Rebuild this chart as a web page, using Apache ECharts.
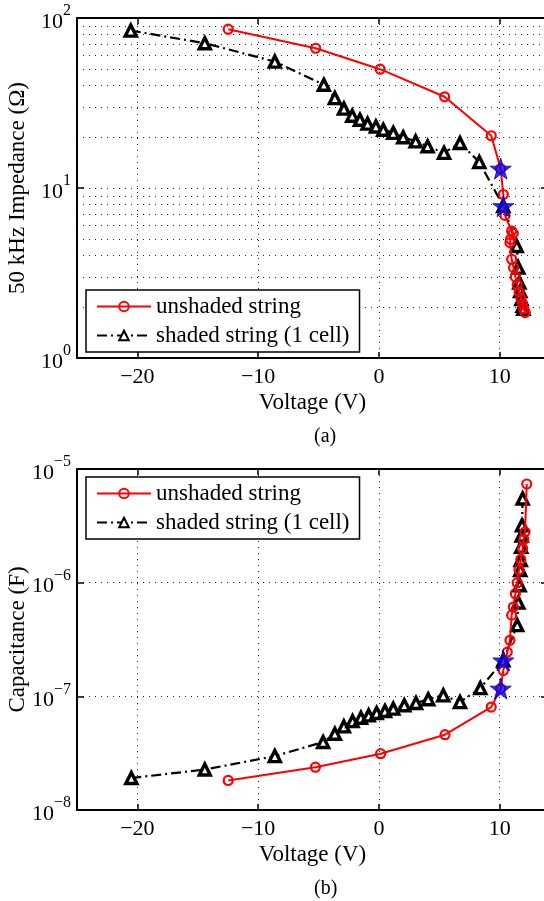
<!DOCTYPE html>
<html>
<head>
<meta charset="utf-8">
<script src="https://cdn.jsdelivr.net/npm/echarts@6/dist/echarts.min.js"></script>
<style>html,body{margin:0;padding:0;background:#fff}#c{width:544px;height:901px}</style>
</head>
<body>
<div id="c"></div>
<script>
// ---- data ----
const xTickValues = [-20, -10, 0, 10];

// (a) impedance, unshaded string
const zRedV = [-12.48, -5.24, 0.1, 5.44, 9.3, 10.08, 10.3, 10.44, 10.99, 11.13, 10.9, 10.85, 10.99, 11.15, 11.3, 11.45, 11.6, 11.75, 11.9, 12.0, 12.1];
const zRed  = [85.9, 66.4, 50.0, 34.4, 20.3, 13.0, 9.16, 6.9, 5.58, 5.41, 4.99, 4.77, 3.81, 3.4, 3.0, 2.7, 2.45, 2.25, 2.08, 1.95, 1.85];
// (a) impedance, shaded string (1 cell)
const zBlkV = [-20.55, -14.42, -8.62, -4.56, -3.65, -2.9, -2.21, -1.57, -0.94, -0.25, 0.36, 1.19, 2.01, 3.04, 4.03, 5.39, 6.71, 8.31, 10.3, 11.41, 11.54, 11.63, 11.7, 11.8, 11.9, 11.96];
const zBlk  = [84.3, 71.1, 55.4, 40.5, 33.8, 29.3, 26.6, 25.2, 23.9, 23.0, 22.0, 21.1, 19.9, 18.8, 17.6, 16.1, 18.4, 14.2, 7.82, 4.56, 3.4, 2.78, 2.48, 2.22, 2.03, 1.95];
// (a) highlighted points
const zStarV = [10.08, 10.3];
const zStar  = [13.0, 7.82];

// (b) capacitance, unshaded string
const cRedV = [-12.48, -5.26, 0.14, 5.47, 9.3, 10.08, 10.3, 10.63, 10.85, 10.99, 11.13, 11.3, 11.45, 11.6, 11.75, 11.9, 12.0, 12.1, 12.24];
const cRed  = [1.82e-8, 2.38e-8, 3.13e-8, 4.6e-8, 8.05e-8, 1.17e-7, 1.69e-7, 2.45e-7, 3.11e-7, 5.18e-7, 6.1e-7, 8.0e-7, 1.0e-6, 1.3e-6, 1.6e-6, 2.0e-6, 2.4e-6, 2.8e-6, 7.38e-6];
// (b) capacitance, shaded string (1 cell)
const cBlkV = [-20.5, -14.42, -8.62, -4.62, -3.65, -2.9, -2.18, -1.49, -0.85, -0.19, 0.5, 1.19, 2.1, 3.07, 4.08, 5.33, 6.71, 8.4, 10.3, 11.45, 11.54, 11.65, 11.7, 11.74, 11.78, 11.82, 11.85, 11.9];
const cBlk  = [1.91e-8, 2.27e-8, 2.98e-8, 3.96e-8, 4.69e-8, 5.44e-8, 6.05e-8, 6.48e-8, 6.8e-8, 7.13e-8, 7.42e-8, 7.79e-8, 8.34e-8, 8.74e-8, 9.42e-8, 1.02e-7, 8.9e-8, 1.18e-7, 2.07e-7, 4.23e-7, 6.7e-7, 9.5e-7, 1.29e-6, 1.58e-6, 2.07e-6, 2.6e-6, 3.2e-6, 5.5e-6];
// (b) highlighted points
const cStarV = [10.08, 10.3];
const cStar  = [1.17e-7, 2.07e-7];

// minor grid values
const zMinor = [2, 3, 4, 5, 6, 7, 8, 9, 20, 30, 40, 50, 60, 70, 80, 90];
const cMinor = [2e-8, 3e-8, 4e-8, 5e-8, 6e-8, 7e-8, 8e-8, 9e-8, 2e-7, 3e-7, 4e-7, 5e-7, 6e-7, 7e-7, 8e-7, 9e-7, 2e-6, 3e-6, 4e-6, 5e-6, 6e-6, 7e-6, 8e-6, 9e-6];

// ---- chart ----
const FONT = '"Liberation Serif", "DejaVu Serif", serif';
const pairs = (xs, ys) => xs.map((x, i) => [x, ys[i]]);
const STAR = 'path://M50,0 L61,35 L98,35 L68,57 L79,91 L50,70 L21,91 L32,57 L2,35 L39,35 Z';
const dotted = { type: [1, 5], color: '#222', width: 1 };

function expLabel(v) {
  const e = Math.round(Math.log10(v));
  return '{b|10}{s|' + (e < 0 ? '\u2212' + (-e) : e) + '}';
}
const yRich = {
  b: { fontSize: 22, fontFamily: FONT, color: '#000', lineHeight: 30, verticalAlign: 'bottom' },
  s: { fontSize: 16, fontFamily: FONT, color: '#000', lineHeight: 16, verticalAlign: 'top' }
};

function xAxisPair(gi) {
  return [
    {
      type: 'value', gridIndex: gi, min: -25, max: 14, position: 'bottom',
      axisLine: { show: true, onZero: false, lineStyle: { color: '#000', width: 2 } },
      axisTick: { show: true, inside: true, length: 6, customValues: xTickValues, lineStyle: { color: '#000', width: 1.5 } },
      axisLabel: { customValues: xTickValues, fontSize: 22, fontFamily: FONT, color: '#000', margin: 8,
        formatter: v => (v < 0 ? '\u2212' + (-v) : '' + v) },
      splitLine: { show: true, lineStyle: dotted },
      name: 'Voltage (V)', nameLocation: 'middle', nameGap: 33, nameMoveOverlap: false,
      nameTextStyle: { fontSize: 23, fontFamily: FONT, color: '#000' }
    },
    {
      type: 'value', gridIndex: gi, min: -25, max: 14, position: 'top',
      axisLine: { show: true, onZero: false, lineStyle: { color: '#000', width: 2 } },
      axisTick: { show: true, inside: true, length: 6, customValues: xTickValues, lineStyle: { color: '#000', width: 1.5 } },
      axisLabel: { show: false }, splitLine: { show: false }
    }
  ];
}
function yAxisPair(gi, mn, mx, name) {
  return [
    {
      type: 'log', logBase: 10, gridIndex: gi, min: mn, max: mx, position: 'left',
      axisLine: { show: true, onZero: false, lineStyle: { color: '#000', width: 2 } },
      axisTick: { show: true, inside: true, length: 7, lineStyle: { color: '#000', width: 1.5 } },
      axisLabel: { formatter: expLabel, rich: yRich, margin: 6 },
      splitLine: { show: true, lineStyle: dotted },
      minorTick: { show: false }, minorSplitLine: { show: false },
      name: name, nameLocation: 'middle', nameGap: 48, nameMoveOverlap: false,
      nameTextStyle: { fontSize: 23, fontFamily: FONT, color: '#000' }
    },
    {
      type: 'log', logBase: 10, gridIndex: gi, min: mn, max: mx, position: 'right',
      axisLine: { show: true, onZero: false, lineStyle: { color: '#000', width: 2 } },
      axisTick: { show: true, inside: true, length: 7, lineStyle: { color: '#000', width: 1.5 } },
      axisLabel: { show: false }, splitLine: { show: false }
    }
  ];
}
function redSeries(xi, yi, data, minor) {
  return {
    name: 'unshaded string', type: 'line', xAxisIndex: xi, yAxisIndex: yi, data: data,
    symbol: 'circle', symbolSize: 9, showAllSymbol: true,
    lineStyle: { color: '#ff0000', width: 2 },
    itemStyle: { color: 'rgba(255,255,255,0)', borderColor: '#ff0000', borderWidth: 2.2 },
    emphasis: { disabled: true }, z: 3,
    markLine: {
      silent: true, symbol: ['none', 'none'], label: { show: false },
      lineStyle: dotted, animation: false, z: 1,
      data: minor.map(v => ({ yAxis: v }))
    }
  };
}
function blackSeries(xi, yi, data) {
  return {
    name: 'shaded string (1 cell)', type: 'line', xAxisIndex: xi, yAxisIndex: yi, data: data,
    symbol: 'triangle', symbolSize: 11, showAllSymbol: true,
    lineStyle: { color: '#000', width: 2.2, type: [10, 4, 2, 4] },
    itemStyle: { color: '#fff', borderColor: '#000', borderWidth: 3.4 },
    emphasis: { disabled: true }, z: 2
  };
}
function starSeries(xi, yi, data) {
  return {
    name: 'points', type: 'scatter', xAxisIndex: xi, yAxisIndex: yi, data: data,
    symbol: STAR, symbolSize: 21,
    itemStyle: { color: '#0000ff', borderColor: '#0000a0', borderWidth: 1 },
    emphasis: { disabled: true }, z: 5
  };
}
function legendAt(top) {
  return {
    orient: 'vertical', left: 86, top: top,
    data: ['unshaded string', 'shaded string (1 cell)'],
    itemWidth: 54, itemHeight: 12, itemGap: 6, padding: [5, 10, 5, 10],
    textStyle: { fontSize: 23, fontFamily: FONT, color: '#000' },
    backgroundColor: '#fff', borderColor: '#000', borderWidth: 1.5, borderRadius: 0,
    selectedMode: false
  };
}

const chart = echarts.init(document.getElementById('c'), null, { renderer: 'canvas' });
chart.setOption({
  animation: false,
  backgroundColor: '#fff',
  grid: [
    { left: 77, top: 18, width: 471, height: 340, containLabel: false, outerBoundsMode: 'none' },
    { left: 77, top: 469, width: 471, height: 341, containLabel: false, outerBoundsMode: 'none' }
  ],
  xAxis: [...xAxisPair(0), ...xAxisPair(1)],
  yAxis: [...yAxisPair(0, 1, 100, '50 kHz Impedance (\u03A9)'), ...yAxisPair(1, 1e-8, 1e-5, 'Capacitance (F)')],
  legend: [legendAt(290), legendAt(477)],
  series: [
    redSeries(0, 0, pairs(zRedV, zRed), zMinor),
    blackSeries(0, 0, pairs(zBlkV, zBlk)),
    starSeries(0, 0, pairs(zStarV, zStar)),
    redSeries(2, 2, pairs(cRedV, cRed), cMinor),
    blackSeries(2, 2, pairs(cBlkV, cBlk)),
    starSeries(2, 2, pairs(cStarV, cStar))
  ],
  graphic: [
    { type: 'text', left: 314, top: 427, style: { text: '(a)', font: '20px ' + FONT, fill: '#000' } },
    { type: 'text', left: 314, top: 879, style: { text: '(b)', font: '20px ' + FONT, fill: '#000' } }
  ]
});
</script>
</body>
</html>
